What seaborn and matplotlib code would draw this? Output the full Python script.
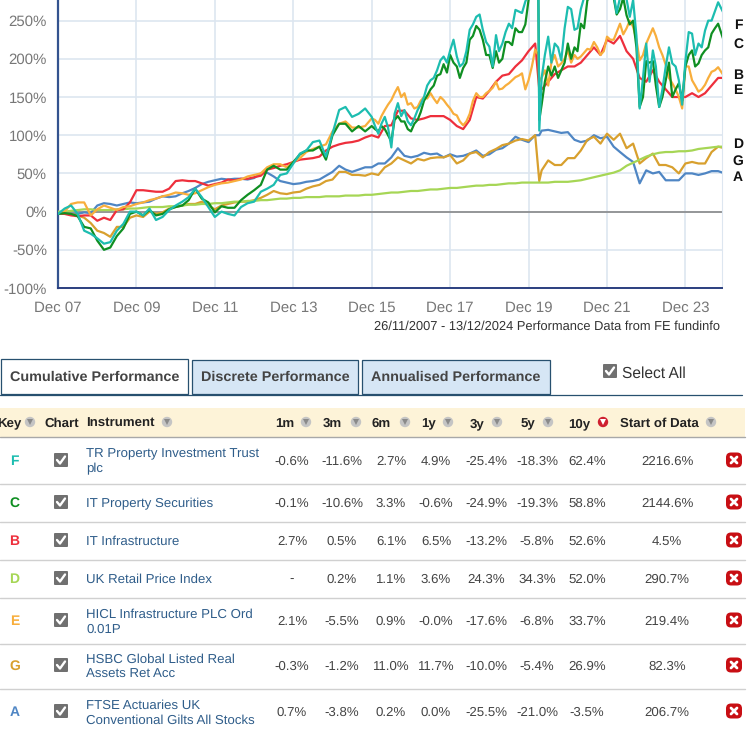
import matplotlib
matplotlib.use('Agg')
import matplotlib.pyplot as plt
from matplotlib.patches import Rectangle, FancyBboxPatch, Circle
import pandas as pd
import seaborn as sns

# two-monthly readings from Dec 07, plus one extra for the March 2020 drop
dates = pd.date_range('2007-12-01', periods=103, freq='2MS').union(pd.to_datetime(['2020-03-10']))
# in-between readings for the three busiest lines
extra_dates = pd.date_range('2016-01-01', '2024-09-01', freq='2MS')

F_vals = [-3, 4, 8, -3, -25, -29,
          -35, -42, -40, -25, -16, 0,
          0, -5, 4, -11, -7, 2,
          8, 13, 19, 30, 19, 6,
          -7, 0, -3, -5, 6, 11,
          13, 26, 30, 35, 48, 50,
          63, 76, 80, 91, 93, 72,
          102, 133, 137, 124, 128, 135,
          124, 102, 124, 84, 142, 133,
          113, 133, 150, 172, 185, 203,
          211, 203, 194, 238, 255, 238,
          216, 231, 220, 246, 264, 260,
          285, 300, 106, 175, 229, 220, 198,
          268, 238, 265, 285, 290, 290,
          290, 285, 280, 278, 277, 135,
          220, 211, 137, 190, 194, 172,
          197, 233, 220, 237, 250, 274,
          257]
F_extra = [112, 115, 110, 128, 125, 118,
           122, 140, 165, 175, 198, 195,
           225, 190, 210, 245, 258, 222,
           190, 210, 235, 240, 262, 275,
           300, 300, 205, 195, 215, 240,
           265, 240, 280, 290, 295, 290,
           285, 260, 290, 255, 230, 175,
           170, 190, 160, 215, 190, 140,
           235, 205, 215, 250, 262]
C_vals = [-3, -2, -3, -6, -20, -22,
          -38, -50, -47, -32, -22, -3,
          0, -5, 2, -5, -3, 3,
          6, 8, 15, 30, 17, 12,
          -1, 7, 5, 5, 15, 22,
          28, 35, 55, 60, 55, 55,
          65, 75, 80, 80, 85, 68,
          100, 115, 115, 105, 112, 105,
          112, 105, 108, 92, 125, 118,
          105, 120, 145, 160, 178, 193,
          205, 190, 188, 225, 243, 225,
          205, 210, 200, 222, 240, 235,
          277, 290, 120, 140, 190, 190, 185,
          220, 215, 246, 277, 285, 285,
          285, 280, 265, 257, 250, 137,
          197, 197, 137, 172, 150, 168,
          190, 211, 194, 211, 233, 246,
          220]
C_extra = [108, 112, 100, 120, 118, 108,
           115, 130, 152, 165, 180, 182,
           195, 175, 195, 230, 238, 205,
           188, 195, 222, 218, 235, 245,
           290, 290, 170, 178, 175, 195,
           200, 210, 240, 280, 290, 280,
           285, 258, 280, 245, 215, 150,
           195, 165, 150, 195, 160, 145,
           205, 190, 205, 215, 240]
B_vals = [-2, -3, -5, -6, -5, -5,
          -12, -8, -11, 2, 3, 12,
          28, 28, 27, 26, 26, 30,
          40, 41, 40, 40, 37, 34,
          36, 38, 42, 41, 43, 43,
          45, 47, 55, 57, 60, 62,
          65, 68, 69, 70, 72, 80,
          85, 88, 90, 91, 93, 97,
          100, 97, 112, 113, 132, 132,
          122, 120, 122, 125, 125, 125,
          120, 112, 108, 120, 150, 148,
          158, 170, 178, 180, 190, 198,
          210, 220, 160, 160, 170, 180, 185,
          190, 190, 195, 205, 215, 205,
          225, 220, 230, 210, 200, 175,
          170, 185, 170, 160, 150, 150,
          150, 155, 150, 155, 165, 175,
          175]
D_vals = [0, 0, 1, 2, 3, 3,
          2, 2, 2, 3, 3, 4,
          4, 5, 6, 6, 6, 7,
          7, 8, 9, 9, 10, 10,
          11, 11, 12, 13, 13, 14,
          14, 15, 15, 16, 17, 17,
          18, 18, 19, 19, 19, 20,
          20, 20, 21, 21, 21, 22,
          22, 23, 24, 25, 25, 26,
          27, 27, 28, 29, 29, 30,
          31, 31, 32, 33, 34, 34,
          35, 35, 36, 37, 37, 38,
          38, 38, 38, 38, 38, 39, 39,
          39, 40, 41, 43, 45, 47,
          49, 51, 54, 60, 64, 68,
          72, 75, 77, 78, 78, 79,
          79, 80, 82, 83, 84, 85,
          85]
E_vals = [-2, 0, 10, 12, 12, -5,
          3, 8, 5, 2, 6, 7,
          10, 12, 15, 17, 20, 22,
          25, 24, 22, 24, 28, 32,
          35, 37, 38, 40, 42, 46,
          48, 50, 58, 62, 62, 58,
          65, 70, 78, 82, 85, 88,
          105, 115, 118, 110, 110, 112,
          122, 115, 133, 146, 163, 155,
          142, 137, 150, 155, 142, 146,
          135, 126, 113, 128, 155, 150,
          158, 170, 161, 168, 176, 181,
          172, 212, 170, 175, 165, 205, 194,
          211, 205, 203, 213, 222, 205,
          229, 225, 246, 240, 242, 198,
          220, 240, 215, 192, 168, 150,
          190, 172, 157, 166, 183, 189,
          176]
E_extra = [120, 125, 140, 155, 150, 140,
           135, 145, 148, 148, 150, 140,
           128, 118, 118, 145, 150, 155,
           162, 160, 165, 172, 178, 160,
           190, 205, 185, 195, 190, 200,
           195, 200, 208, 212, 215, 210,
           225, 235, 232, 250, 225, 205,
           230, 230, 205, 175, 160, 135,
           190, 165, 160, 175, 185]
G_vals = [-2, -3, -3, -5, -8, -15,
          -25, -28, -33, -20, -20, -8,
          -5, -7, 0, -3, -1, 4,
          6, 8, 10, 10, 13, 8,
          3, 8, 10, 12, 13, 13,
          15, 18, 22, 27, 24, 23,
          25, 26, 30, 33, 35, 40,
          42, 52, 52, 48, 48, 47,
          50, 48, 58, 63, 71, 67,
          63, 69, 67, 70, 71, 71,
          74, 63, 67, 76, 78, 71,
          78, 82, 87, 89, 93, 95,
          93, 100, 40, 54, 67, 61, 61,
          70, 70, 80, 94, 98, 89,
          102, 94, 102, 83, 89, 63,
          70, 76, 61, 61, 58, 50,
          63, 65, 63, 63, 78, 85,
          83]
A_vals = [-2, -3, -3, -3, -1, -2,
          8, 11, 10, 8, 10, 12,
          11, 12, 13, 17, 20, 19,
          20, 24, 27, 31, 36, 39,
          41, 43, 42, 43, 43, 42,
          44, 50, 51, 46, 40, 38,
          36, 37, 39, 40, 42, 47,
          52, 60, 55, 52, 55, 58,
          58, 63, 63, 71, 83, 73,
          71, 73, 77, 75, 76, 71,
          75, 72, 73, 76, 80, 73,
          75, 81, 83, 89, 98, 94,
          91, 100, 100, 106, 107, 105, 103,
          104, 94, 91, 93, 100, 96,
          98, 85, 78, 71, 65, 37,
          54, 50, 52, 41, 41, 41,
          50, 50, 48, 50, 53, 53,
          50]

# draw order, last one ends up on top
series_order = ['A', 'G', 'D', 'B', 'E', 'C', 'F']
series_vals = {'A': A_vals, 'G': G_vals, 'D': D_vals, 'B': B_vals,
               'E': E_vals, 'C': C_vals, 'F': F_vals}
series_extra = {'E': E_extra, 'C': C_extra, 'F': F_extra}
key_colors = {'F': '#1dbdb0', 'C': '#0f8f22', 'B': '#ee2f3c', 'D': '#a6d655',
              'E': '#f8ae3c', 'G': '#d8a02e', 'A': '#4f86c4'}

tick_years = ['Dec 07', 'Dec 09', 'Dec 11', 'Dec 13', 'Dec 15', 'Dec 17', 'Dec 19', 'Dec 21', 'Dec 23']
y_ticks = [-100, -50, 0, 50, 100, 150, 200, 250]

# table content
row_keys = ['F', 'C', 'B', 'D', 'E', 'G', 'A']
row_names = [['TR Property Investment Trust', 'plc'],
             ['IT Property Securities'],
             ['IT Infrastructure'],
             ['UK Retail Price Index'],
             ['HICL Infrastructure PLC Ord', '0.01P'],
             ['HSBC Global Listed Real', 'Assets Ret Acc'],
             ['FTSE Actuaries UK', 'Conventional Gilts All Stocks']]
perf_1m = ['-0.6%', '-0.1%', '2.7%', '-', '2.1%', '-0.3%', '0.7%']
perf_3m = ['-11.6%', '-10.6%', '0.5%', '0.2%', '-5.5%', '-1.2%', '-3.8%']
perf_6m = ['2.7%', '3.3%', '6.1%', '1.1%', '0.9%', '11.0%', '0.2%']
perf_1y = ['4.9%', '-0.6%', '6.5%', '3.6%', '-0.0%', '11.7%', '0.0%']
perf_3y = ['-25.4%', '-24.9%', '-13.2%', '24.3%', '-17.6%', '-10.0%', '-25.5%']
perf_5y = ['-18.3%', '-19.3%', '-5.8%', '34.3%', '-6.8%', '-5.4%', '-21.0%']
perf_10y = ['62.4%', '58.8%', '52.6%', '52.0%', '33.7%', '26.9%', '-3.5%']
perf_start = ['2216.6%', '2144.6%', '4.5%', '290.7%', '219.4%', '82.3%', '206.7%']

sns.set_style('white')
plt.rcParams['font.family'] = ['Liberation Sans', 'DejaVu Sans']
plt.rcParams['text.hinting'] = 'none'

W, H = 752, 729
fig = plt.figure(figsize=(W / 100, H / 100), dpi=100)

# page layer in pixel coordinates for the tabs and the table
page = fig.add_axes([0, 0, 1, 1])
page.set_xlim(0, W)
page.set_ylim(H, 0)
page.axis('off')

# chart
ax = fig.add_axes([58 / W, 1 - 288 / H, 664 / W, 288 / H])
ax.patch.set_alpha(0)
frames = []
for k in series_order:
    frames.append(pd.DataFrame({'date': dates, 'key': k, 'value': series_vals[k]}))
    if k in series_extra:
        frames.append(pd.DataFrame({'date': extra_dates, 'key': k, 'value': series_extra[k]}))
df = pd.concat(frames).sort_values('date')
sns.lineplot(data=df, x='date', y='value', hue='key', hue_order=series_order, palette=key_colors,
             estimator=None, errorbar=None, linewidth=1.6, legend=False, ax=ax, zorder=3)
ax.set_xlim(pd.Timestamp('2007-12-01'), pd.Timestamp('2024-11-06'))
ax.set_ylim(-100, 277)
ax.set_xlabel('')
ax.set_ylabel('')
ax.set_xticks(pd.date_range('2007-12-01', periods=len(tick_years), freq='24MS'))
ax.set_xticklabels(tick_years)
ax.set_yticks(y_ticks)
ax.set_yticklabels([f'{v}%' for v in y_ticks])
ax.tick_params(length=0, labelsize=10.8, labelcolor='#777777')
ax.tick_params(axis='y', pad=8)
ax.tick_params(axis='x', pad=9)
ax.grid(True, color='#dde6f0', linewidth=1.2)
ax.set_axisbelow(True)
ax.axhline(0, color='#808080', linewidth=1.1, zorder=2)
ax.spines['top'].set_visible(False)
ax.spines['right'].set_color('#dde6f0')
ax.spines['left'].set_color('#34538f')
ax.spines['left'].set_linewidth(1.6)
ax.spines['bottom'].set_color('#2b3f7f')
ax.spines['bottom'].set_linewidth(1.4)

# end-of-line letters
for letter, y in zip(['F', 'C', 'B', 'E', 'D', 'G', 'A'], [24, 43, 74, 89, 143, 160, 176]):
    page.text(738, y + 5, letter, fontsize=10, fontweight='bold', color='#111111', ha='center', va='baseline')

page.text(720, 330, '26/11/2007 - 13/12/2024 Performance Data from FE fundinfo', fontsize=9.25,
          color='#333333', ha='right', va='baseline')


def tab(x0, x1, label, fill, top=360):
    page.add_patch(Rectangle((x0, top), x1 - x0, 394 - top, facecolor=fill, edgecolor='#27506f', linewidth=0.9))
    page.text((x0 + x1) / 2, 381, label, fontsize=10.4, fontweight='bold', color='#444444', ha='center', va='baseline')


def checkbox(x, y, size=14):
    page.add_patch(FancyBboxPatch((x - size / 2 + 1, y - size / 2 + 1), size - 2, size - 2,
                                  boxstyle='round,pad=1', facecolor='#707070', edgecolor='none'))
    page.plot([x - 4, x - 1, x + 4], [y, y + 3.5, y - 3.5], color='white', linewidth=1.7, solid_capstyle='round')


def sort_icon(x, y, red=False):
    page.add_patch(Circle((x, y), 5.2, facecolor='#cf2030' if red else '#c4c4c4', edgecolor='none'))
    page.plot([x], [y + 0.3], marker='v', markersize=4, color='white' if red else '#8a8a8a', markeredgewidth=0)


def remove_icon(x, y):
    page.add_patch(FancyBboxPatch((x - 6, y - 5.5), 12, 11, boxstyle='round,pad=2,rounding_size=5',
                                  facecolor='#c80f14', edgecolor='none'))
    page.plot([x - 3, x + 3], [y - 3, y + 3], color='white', linewidth=2)
    page.plot([x - 3, x + 3], [y + 3, y - 3], color='white', linewidth=2)


# tabs
tab(1, 188, 'Cumulative Performance', 'white', top=359)
tab(192, 358, 'Discrete Performance', '#d6e6f5')
tab(362, 550, 'Annualised Performance', '#d6e6f5')
page.plot([0, 742], [395, 395], color='#27506f', linewidth=0.9)
checkbox(610, 371)
page.text(622, 378, 'Select All', fontsize=11.2, color='#333333', va='baseline')

# table header
page.add_patch(Rectangle((0, 408), 745, 29, facecolor='#fdf3d8', edgecolor='none'))
page.plot([0, 745], [437, 437], color='#a8a8a8', linewidth=1)
header_labels = ['Key', 'Chart', 'Instrument', '1m', '3m', '6m', '1y', '3y', '5y', '10y', 'Start of Data']
header_x = [-3, 44, 86, 275, 323, 372, 421, 470, 521, 568, 620]
icon_x = [30, None, 167, 306, 356, 405, 448, 497, 548, 603, 711]
for label, x, ix in zip(header_labels, header_x, icon_x):
    page.text(x, 427, label, fontsize=9.5, fontweight='bold', color='#222222', va='baseline')
    if ix is not None:
        sort_icon(ix, 422, red=label == '10y')

# table rows
row_y = [460, 502, 540, 578, 620, 665, 711]
row_lines = [483.5, 521.5, 559.5, 597.5, 643.5, 688.5]
for y in row_lines:
    page.plot([0, 745], [y, y], color='#d0d0d0', linewidth=1)

value_cols = [perf_1m, perf_3m, perf_6m, perf_1y, perf_3y, perf_5y, perf_10y, perf_start]
value_x = [292, 342, 391, 436, 486, 537, 587, 667]
for i, key in enumerate(row_keys):
    y = row_y[i]
    page.text(14.5, y + 5, key, fontsize=10, fontweight='bold', color=key_colors[key], ha='center', va='baseline')
    checkbox(61, y)
    if len(row_names[i]) == 1:
        page.text(86, y + 5, row_names[i][0], fontsize=9.5, color='#2f5d8a', va='baseline')
    else:
        page.text(86, y - 2.5, row_names[i][0], fontsize=9.5, color='#2f5d8a', va='baseline')
        page.text(86, y + 12.5, row_names[i][1], fontsize=9.5, color='#2f5d8a', va='baseline')
    for col, x in zip(value_cols, value_x):
        page.text(x, y + 5, col[i], fontsize=9.5, color='#444444', ha='center', va='baseline')
    remove_icon(734, y)

fig.savefig('out.png', dpi=100)
